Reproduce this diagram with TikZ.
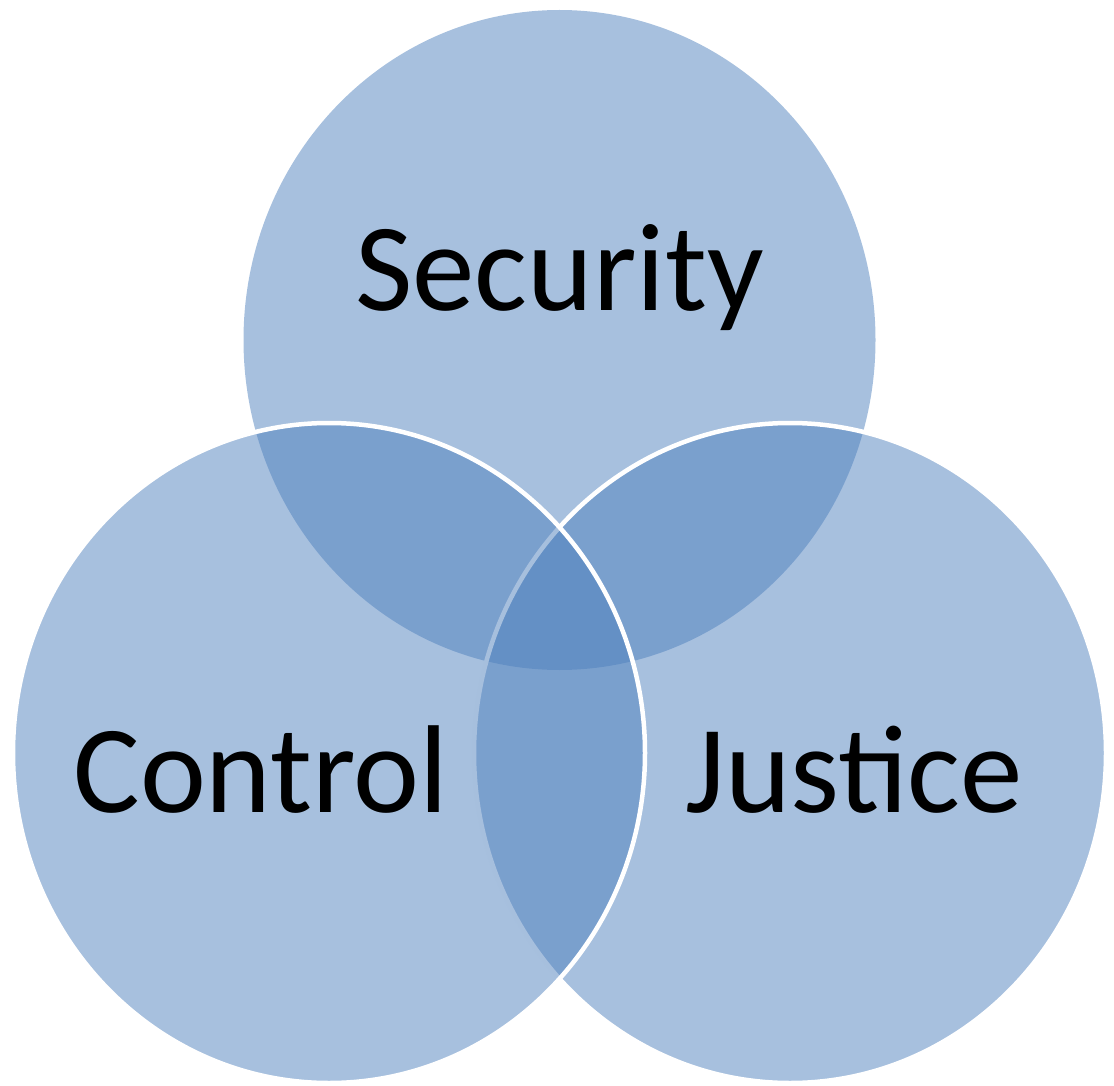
\documentclass[tikz,border=0pt]{standalone}
\usepackage{fontspec}
\setmainfont{Carlito}
\usepackage{tikz}
\usetikzlibrary{shapes.geometric}
\definecolor{ringblue}{HTML}{4F81BD}

\begin{document}
\begin{tikzpicture}[x=1pt, y=-1pt,
    ring/.style={ellipse, fill=ringblue, fill opacity=0.5, line width=4.5pt,
      minimum width=632pt, minimum height=660pt, inner sep=0pt},
    word/.style={anchor=base, text=black, font=\fontsize{125}{125}\selectfont}]
  \useasboundingbox (0,0) rectangle (1114,1086);
  % Rings
  \foreach \name/\x/\y/\edge in {security/559.5/340/none, justice/790/753/white, control/329/753/white} {
    \node[ring, draw=\edge] (\name) at (\x,\y) {};
  }
  % Labels
  \node[word] (securitytext) at (559.5,310) {Security};
  \node[word] (controltext) at (261,812) {Control};
  \node[word] (justicetext) at (854,812) {Justice};
\end{tikzpicture}
\end{document}
